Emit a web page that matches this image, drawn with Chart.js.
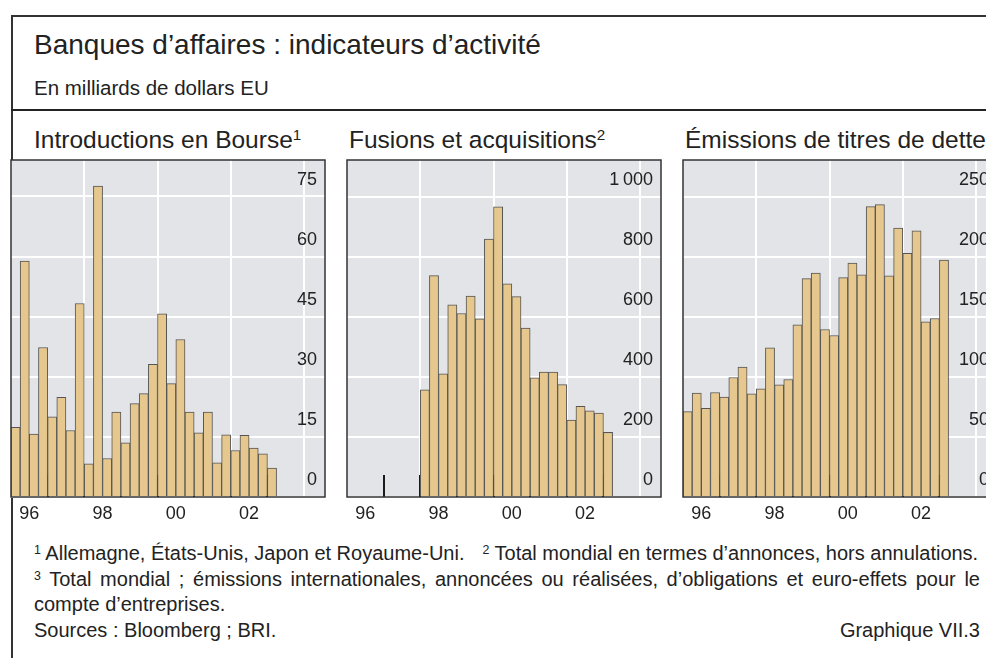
<!DOCTYPE html>
<html><head><meta charset="utf-8">
<script src="https://cdn.jsdelivr.net/npm/chart.js@4.4.1/dist/chart.umd.min.js"></script>
<style>
html,body{margin:0;padding:0;background:#fff;}
body{width:986px;height:658px;position:relative;overflow:hidden;font-family:"Liberation Sans",Arial,sans-serif;color:#222;}
.t{position:absolute;white-space:nowrap;line-height:1;}
.sup{font-size:0.62em;vertical-align:0.5em;}
.line{position:absolute;background:#333;}
canvas{position:absolute;}
</style></head><body>
<div class="line" style="left:11px;top:15px;width:975px;height:1.5px;"></div>
<div class="line" style="left:11px;top:15px;width:1.5px;height:643px;"></div>
<div class="line" style="left:11px;top:109px;width:975px;height:2px;background:#222;"></div>

<div class="t" style="left:34px;top:31px;font-size:28px;">Banques d’affaires : indicateurs d’activité</div>
<div class="t" style="left:34px;top:78px;font-size:20.5px;">En milliards de dollars EU</div>

<div class="t" style="left:34px;top:127px;font-size:24.5px;">Introductions en Bourse<span class="sup">1</span></div>
<div class="t" style="left:349px;top:127px;font-size:24.5px;">Fusions et acquisitions<span class="sup">2</span></div>
<div class="t" style="left:685px;top:127px;font-size:24.5px;">Émissions de titres de dette<span class="sup">3</span></div>

<canvas id="c1" width="316" height="364" style="left:10px;top:159px;"></canvas>
<canvas id="c2" width="316" height="364" style="left:346px;top:159px;"></canvas>
<canvas id="c3" width="316" height="364" style="left:682px;top:159px;"></canvas>

<div class="t" style="left:34px;top:543px;font-size:20px;"><span class="sup">1</span> Allemagne, États-Unis, Japon et Royaume-Uni.<span style="display:inline-block;width:18px;"></span><span class="sup">2</span> Total mondial en termes d’annonces, hors annulations.</div>
<div class="t" style="left:34px;top:569px;font-size:20px;width:946px;text-align:justify;text-align-last:justify;white-space:normal;"><span class="sup">3</span> Total mondial ; émissions internationales, annoncées ou réalisées, d’obligations et euro-effets pour le</div>
<div class="t" style="left:34px;top:594px;font-size:20px;">compte d’entreprises.</div>
<div class="t" style="left:34px;top:620px;font-size:20px;">Sources : Bloomberg ; BRI.</div>
<div class="t" style="right:6px;top:620px;font-size:20px;">Graphique VII.3</div>

<script>
// ---- Data ----
const quartersFull = ['1996T1','1996T2','1996T3','1996T4','1997T1','1997T2','1997T3','1997T4',
  '1998T1','1998T2','1998T3','1998T4','1999T1','1999T2','1999T3','1999T4',
  '2000T1','2000T2','2000T3','2000T4','2001T1','2001T2','2001T3','2001T4',
  '2002T1','2002T2','2002T3','2002T4','2003T1'];
const quartersMA = ['1998T1','1998T2','1998T3','1998T4','1999T1','1999T2','1999T3','1999T4',
  '2000T1','2000T2','2000T3','2000T4','2001T1','2001T2','2001T3','2001T4',
  '2002T1','2002T2','2002T3','2002T4','2003T1'];

const ipoValues = [17.4,58.9,15.7,37.3,20.0,24.9,16.6,48.3,8.3,77.6,9.6,21.2,13.5,23.3,25.8,33.1,
  45.7,28.3,39.3,21.2,16.0,21.2,8.5,15.5,11.6,15.4,12.2,10.8,7.2];
const maValues = [357,737,410,640,611,669,593,859,966,710,667,562,397,416,416,374,256,302,287,279,215];
const debtValues = [71.0,86.5,73.7,87.0,83.1,99.5,108.1,85.9,90.1,124.2,93.4,97.8,143.3,181.8,186.3,139.4,
  134.4,182.6,194.8,184.9,241.7,243.3,184.0,223.9,202.9,221.5,145.8,148.6,197.1];

const xGridYears = [1996,1998,2000,2002,2004];
const xLabelYears = [1996,1998,2000,2002];
const xTickLabels = ['96','98','00','02'];
const xInnerTickYears = [1997,1998,1999,2000,2001,2002,2003];

const ipoTicks = [0,15,30,45,60,75];
const ipoTickLabels = ['0','15','30','45','60','75'];
const maTicks = [0,200,400,600,800,1000];
const maTickLabels = ['0','200','400','600','800','1\u2009000'];
const debtTicks = [0,50,100,150,200,250];
const debtTickLabels = ['0','50','100','150','200','250'];

const X_MIN = 1996, X_MAX = 2004.572;

// ---- Helpers ----
function qToX(q){ const y = parseInt(q.slice(0,4),10); const n = parseInt(q.slice(5),10); return y + (n-0.5)/4; }

const frame = {
  id:'frame',
  beforeDraw(chart){
    const {ctx, chartArea:a} = chart;
    ctx.save(); ctx.fillStyle = '#e2e4e8';
    ctx.fillRect(a.left, a.top, a.right-a.left, a.bottom-a.top); ctx.restore();
  },
  beforeDatasetsDraw(chart){
    // inward year tick marks on the time axis (hidden behind bars where bars exist)
    const {ctx, chartArea:a, scales:{x}} = chart;
    ctx.save(); ctx.strokeStyle = '#1a1a1a'; ctx.lineWidth = 2;
    xInnerTickYears.forEach(yr => {
      const px = Math.round(x.getPixelForValue(yr));
      ctx.beginPath(); ctx.moveTo(px, a.bottom); ctx.lineTo(px, a.bottom - 22); ctx.stroke();
    });
    ctx.restore();
  },
  afterDraw(chart){
    const {ctx, chartArea:a} = chart;
    ctx.save(); ctx.strokeStyle = '#333'; ctx.lineWidth = 1.5;
    ctx.strokeRect(a.left, a.top, a.right-a.left, a.bottom-a.top); ctx.restore();
  }
};

Chart.defaults.font.family = '"Liberation Sans", Arial, sans-serif';
Chart.defaults.color = '#222';

function zeroPad(s){ s.paddingLeft = 0; s.paddingRight = 0; s.paddingTop = 0; s.paddingBottom = 0; }

function panel(id, quarters, values, yTicks, yLabels, yMax){
  const data = quarters.map((q,i)=>({x:qToX(q), y:values[i]}));
  return new Chart(document.getElementById(id), {
    type:'bar',
    data:{datasets:[{data, backgroundColor:'#e6c88e', borderColor:'#555', borderWidth:1,
      borderSkipped:'start', categoryPercentage:1, barPercentage:1}]},
    options:{
      responsive:false, animation:false, devicePixelRatio:1,
      layout:{padding:{left:1,right:1,top:1,bottom:0}},
      plugins:{legend:{display:false}, tooltip:{enabled:false}},
      scales:{
        x:{type:'linear', min:X_MIN, max:X_MAX, offset:false,
          afterBuildTicks: s => {
            const t = [];
            xGridYears.forEach(v=>t.push({value:v}));
            xLabelYears.forEach(v=>t.push({value:v+0.5}));
            t.sort((a,b)=>a.value-b.value);
            s.ticks = t;
          },
          afterFit: s => { s.height = 26; zeroPad(s); },
          grid:{offset:false, drawTicks:false, lineWidth:2,
            color: c => (c.tick && Number.isInteger(c.tick.value) && c.tick.value > X_MIN) ? '#ffffff' : 'rgba(0,0,0,0)'},
          border:{display:false},
          ticks:{autoSkip:false, maxRotation:0, minRotation:0, padding:6, font:{size:18}, color:'#222',
            callback: v => { const i = xLabelYears.indexOf(v-0.5); return i>=0 ? xTickLabels[i] : ''; }}
        },
        y:{position:'right', min:0, max:yMax,
          afterBuildTicks: s => { s.ticks = yTicks.map(v=>({value:v})); },
          afterFit: s => { s.width = 0; zeroPad(s); },
          grid:{drawTicks:false, lineWidth:2, color:'#ffffff'},
          border:{display:false},
          ticks:{mirror:true, padding:-8, labelOffset:-16.5, font:{size:18}, color:'#222',
            callback: (v) => { const i = yTicks.indexOf(v); return i>=0 ? yLabels[i] : ''; }}
        }
      }
    },
    plugins:[frame]
  });
}

panel('c1', quartersFull, ipoValues, ipoTicks, ipoTickLabels, 84.1);
panel('c2', quartersMA, maValues, maTicks, maTickLabels, 1122);
panel('c3', quartersFull, debtValues, debtTicks, debtTickLabels, 280.5);
</script>
</body></html>
